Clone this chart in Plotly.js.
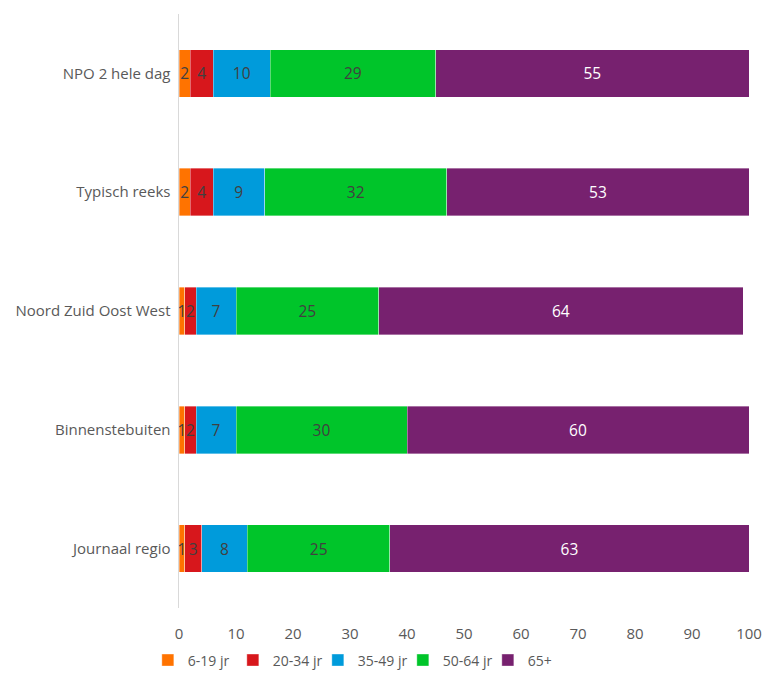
<!DOCTYPE html>
<html><head><meta charset="utf-8">
<script src="https://cdn.plot.ly/plotly-3.0.1.min.js"></script>
<style>html,body{margin:0;padding:0;background:#fff}#c{width:766px;height:676px}</style>
</head><body><div id="c"></div>
<script>
const categories = ["Journaal regio", "Binnenstebuiten", "Noord Zuid Oost West", "Typisch reeks", "NPO 2 hele dag"];
const seriesNames = ["6-19 jr", "20-34 jr", "35-49 jr", "50-64 jr", "65+"];
const s6_19  = [1, 1, 1, 2, 2];
const s20_34 = [3, 2, 2, 4, 4];
const s35_49 = [8, 7, 7, 9, 10];
const s50_64 = [25, 30, 25, 32, 29];
const s65    = [63, 60, 64, 53, 55];
const xTicks = [0, 10, 20, 30, 40, 50, 60, 70, 80, 90, 100];

const colors = ["#FF7300", "#D7171C", "#009BDB", "#00C52A", "#77216F"];
const textColors = ["#404040", "#404040", "#404040", "#404040", "#ffffff"];
const allSeries = [s6_19, s20_34, s35_49, s50_64, s65];
const FONT = "Open Sans, Liberation Sans, sans-serif";

const traces = allSeries.map((vals, i) => ({
  type: "bar",
  orientation: "h",
  name: seriesNames[i],
  y: categories,
  x: vals,
  text: vals.map(String),
  textposition: "inside",
  insidetextanchor: "middle",
  textangle: 0,
  constraintext: "none",
  insidetextfont: {family: FONT, size: 15.5, color: textColors[i]},
  marker: {color: colors[i], line: {color: "rgba(255,255,255,0.6)", width: 0.6}},
  hoverinfo: "x+name"
}));

const layout = {
  width: 766, height: 676,
  margin: {l: 179, r: 17, t: 14, b: 68},
  barmode: "stack",
  bargap: 0.6,
  paper_bgcolor: "#fff",
  plot_bgcolor: "#fff",
  font: {family: FONT, size: 15, color: "#595959"},
  uniformtext: {minsize: 15.5, mode: "show"},
  xaxis: {
    range: [0, 100], tickvals: xTicks, ticktext: xTicks.map(String),
    showgrid: false, zeroline: false, showline: false,
    ticks: "outside", ticklen: 12, tickcolor: "rgba(0,0,0,0)",
    tickfont: {size: 15, color: "#595959"}, fixedrange: true, automargin: false
  },
  yaxis: {
    showgrid: false, zeroline: false, showline: true, linecolor: "#D9D9D9", linewidth: 1.5,
    ticks: "", ticklabelstandoff: 4, tickfont: {size: 15, color: "#595959"}, automargin: false
  },
  showlegend: true,
  legend: {
    orientation: "h", xref: "container", yref: "container",
    x: 0.193, xanchor: "left", y: 0.023, yanchor: "middle",
    font: {size: 14, color: "#595959"}, itemwidth: 30, traceorder: "normal",
    entrywidth: 40, entrywidthmode: "pixels",
    tracegroupgap: 0, itemclick: false
  }
};

Plotly.newPlot("c", traces, layout, {displayModeBar: false, staticPlot: true});
</script></body></html>
